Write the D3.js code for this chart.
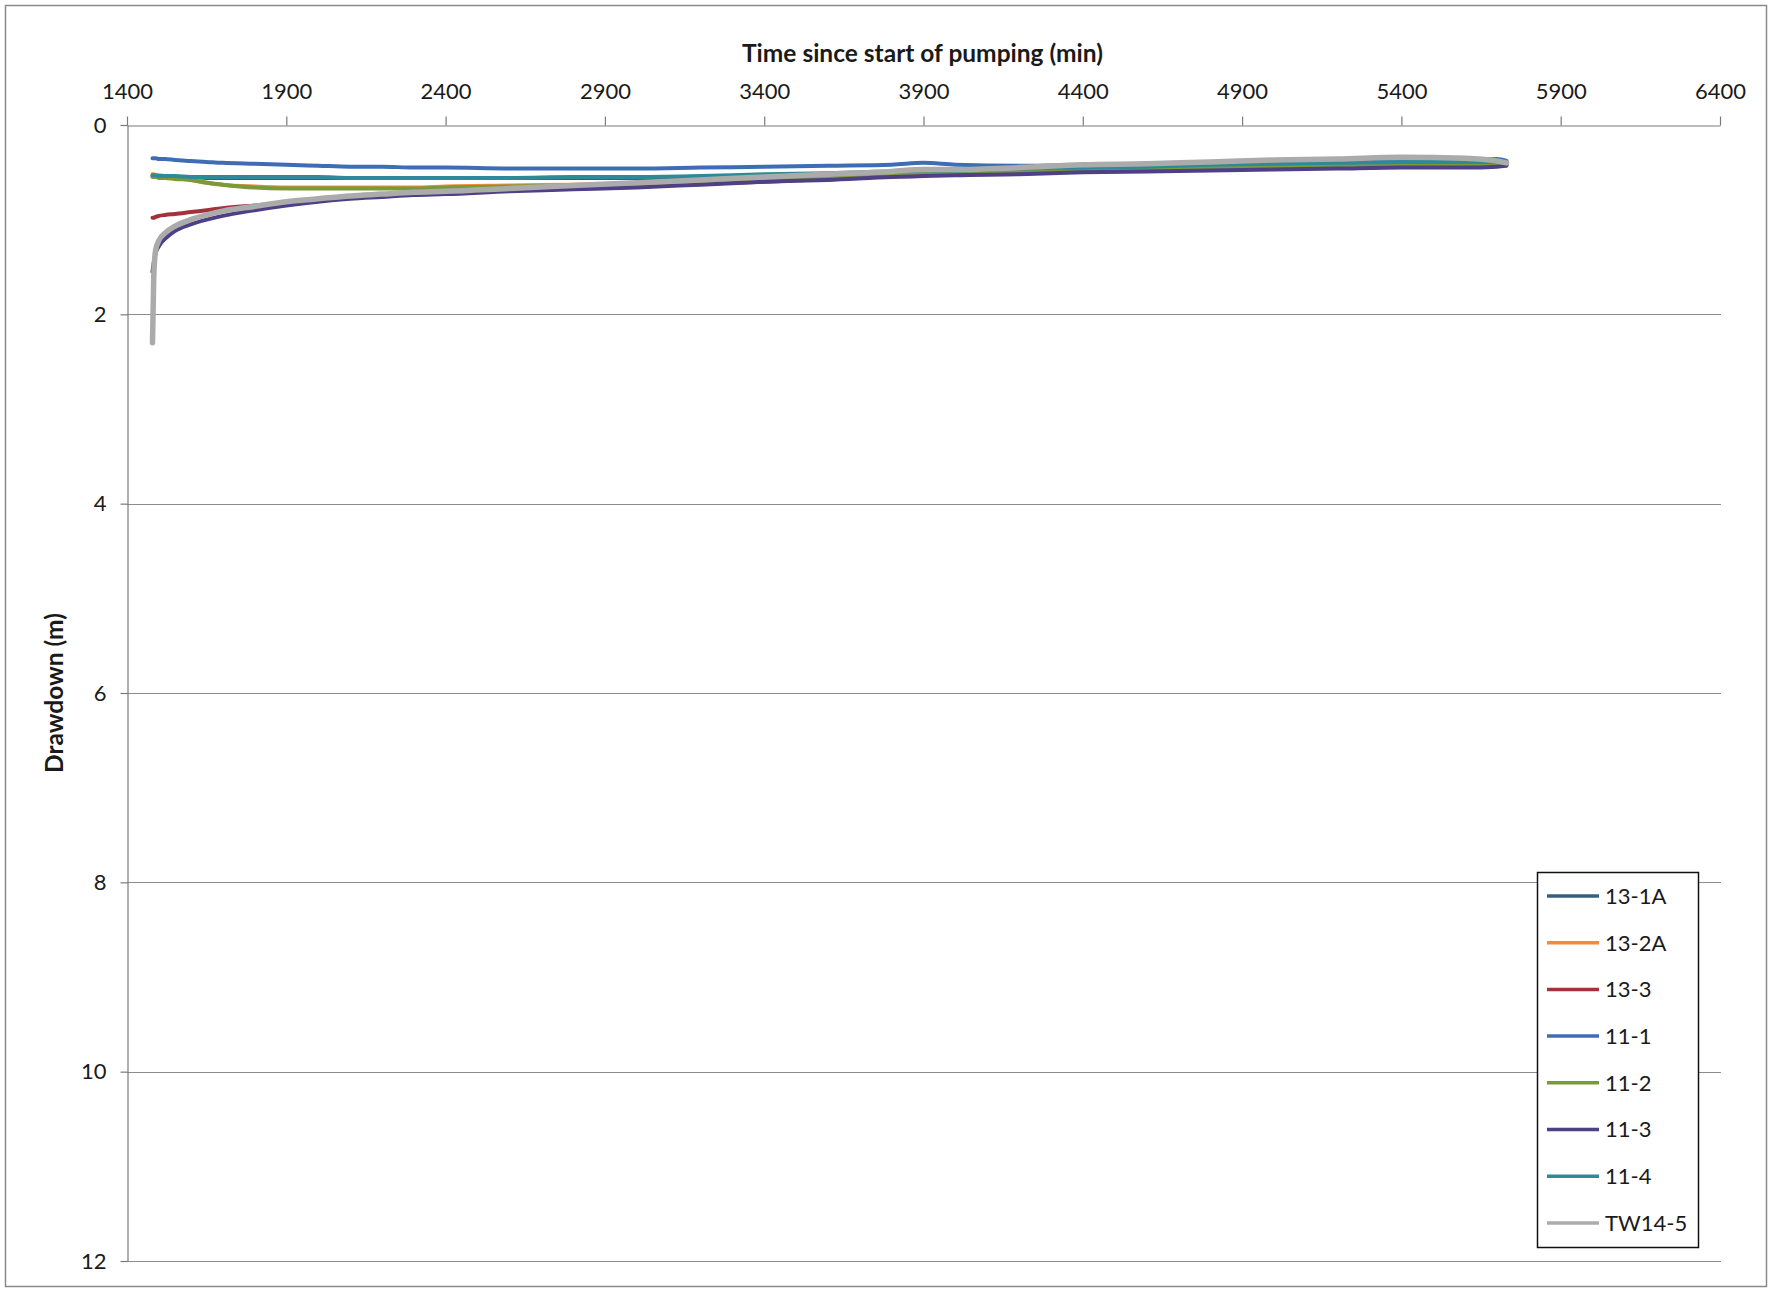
<!DOCTYPE html>
<html>
<head>
<meta charset="utf-8">
<script src="https://cdn.jsdelivr.net/npm/d3@7"></script>
<style>
  html, body { margin: 0; padding: 0; background: #fff; }
  svg { display: block; }
  text { font-family: Lato, "Open Sans", sans-serif; fill: #1a1a1a; }
</style>
</head>
<body>
<script>
// ---- Data ----
const times = [1480, 1484, 1490, 1500, 1520, 1550, 1600, 1650, 1700, 1800,
               1900, 2000, 2100, 2200, 2300, 2400, 2600, 2800, 3000, 3200,
               3400, 3600, 3800, 3900, 4000, 4200, 4400, 4600, 4800, 5000,
               5200, 5400, 5600, 5700, 5730];

const s13_1A = [0.54, 0.54, 0.54, 0.54, 0.55, 0.55, 0.55, 0.56, 0.56, 0.56,
                0.56, 0.56, 0.56, 0.56, 0.56, 0.56, 0.56, 0.56, 0.56, 0.55,
                0.53, 0.52, 0.50, 0.49, 0.48, 0.47, 0.46, 0.45, 0.43, 0.42,
                0.41, 0.40, 0.40, 0.39, 0.40];
const s13_2A = [0.52, 0.52, 0.53, 0.53, 0.54, 0.56, 0.58, 0.61, 0.63, 0.65,
                0.66, 0.66, 0.66, 0.66, 0.66, 0.65, 0.64, 0.63, 0.62, 0.60,
                0.57, 0.55, 0.52, 0.51, 0.50, 0.49, 0.47, 0.46, 0.45, 0.43,
                0.42, 0.41, 0.41, 0.40, 0.40];
const s13_3 = [0.98, 0.98, 0.97, 0.96, 0.95, 0.94, 0.92, 0.90, 0.88, 0.85,
               0.82, 0.79, 0.77, 0.75, 0.73, 0.71, 0.69, 0.67, 0.65, 0.62,
               0.60, 0.57, 0.54, 0.53, 0.52, 0.51, 0.49, 0.48, 0.46, 0.45,
               0.44, 0.43, 0.42, 0.42, 0.42];
const s11_1 = [0.35, 0.35, 0.35, 0.36, 0.36, 0.37, 0.38, 0.39, 0.40, 0.41,
               0.42, 0.43, 0.44, 0.44, 0.45, 0.45, 0.46, 0.46, 0.46, 0.45,
               0.44, 0.43, 0.42, 0.40, 0.42, 0.43, 0.42, 0.41, 0.40, 0.39,
               0.38, 0.38, 0.37, 0.36, 0.38];
const s11_2 = [0.55, 0.55, 0.55, 0.56, 0.56, 0.57, 0.58, 0.61, 0.63, 0.66,
               0.67, 0.67, 0.67, 0.67, 0.67, 0.66, 0.65, 0.64, 0.62, 0.60,
               0.57, 0.55, 0.53, 0.52, 0.51, 0.50, 0.48, 0.47, 0.45, 0.44,
               0.43, 0.42, 0.42, 0.41, 0.41];
const s11_3 = [1.55, 1.45, 1.35, 1.28, 1.20, 1.12, 1.05, 1.00, 0.96, 0.90,
               0.85, 0.81, 0.78, 0.76, 0.74, 0.73, 0.70, 0.68, 0.66, 0.63,
               0.60, 0.58, 0.55, 0.54, 0.53, 0.52, 0.50, 0.49, 0.48, 0.47,
               0.46, 0.45, 0.45, 0.44, 0.43];
const s11_4 = [0.53, 0.53, 0.53, 0.54, 0.54, 0.54, 0.55, 0.55, 0.55, 0.55,
               0.55, 0.55, 0.56, 0.56, 0.56, 0.56, 0.56, 0.55, 0.55, 0.54,
               0.52, 0.51, 0.49, 0.48, 0.48, 0.46, 0.45, 0.44, 0.42, 0.41,
               0.40, 0.39, 0.39, 0.39, 0.40];
const sTW14_5 = [2.30, 1.60, 1.32, 1.22, 1.14, 1.07, 1.00, 0.95, 0.91, 0.86,
                 0.81, 0.78, 0.75, 0.73, 0.71, 0.70, 0.67, 0.64, 0.61, 0.58,
                 0.55, 0.52, 0.49, 0.47, 0.47, 0.45, 0.42, 0.41, 0.39, 0.37,
                 0.36, 0.34, 0.35, 0.38, 0.40];

const seriesNames  = ["13-1A", "13-2A", "13-3", "11-1", "11-2", "11-3", "11-4", "TW14-5"];
const seriesValues = [s13_1A, s13_2A, s13_3, s11_1, s11_2, s11_3, s11_4, sTW14_5];
const seriesColors = ["#37607F", "#F28C3C", "#A3323C", "#3E6DB5", "#7A9A3A", "#4E3F86", "#2E8A96", "#ABABAB"];

const xTicks = [1400, 1900, 2400, 2900, 3400, 3900, 4400, 4900, 5400, 5900, 6400];
const yTicks = [0, 2, 4, 6, 8, 10, 12];

const xTitle = "Time since start of pumping (min)";
const yTitle = "Drawdown (m)";

// ---- Layout ----
const W = 1774, H = 1289;
const plot = { left: 127, right: 1720, top: 125, bottom: 1261 };

const svg = d3.select("body").append("svg").attr("width", W).attr("height", H);

// outer border
svg.append("rect").attr("x", 5.5).attr("y", 5.5).attr("width", 1761).attr("height", 1281)
  .attr("fill", "#fff").attr("stroke", "#8a8a8a").attr("stroke-width", 1.5);

const x = d3.scaleLinear().domain([1400, 6400]).range([plot.left, plot.right]);
const y = d3.scaleLinear().domain([0, 12]).range([plot.top, plot.bottom]);

// gridlines
svg.append("g").selectAll("line").data(yTicks.filter(d => d > 0)).join("line")
  .attr("x1", plot.left).attr("x2", plot.right + 1)
  .attr("y1", d => Math.round(y(d)) + 0.5).attr("y2", d => Math.round(y(d)) + 0.5)
  .attr("stroke", "#8c8c8c").attr("stroke-width", 1.2);

// top axis
const xAxis = svg.append("g").attr("transform", `translate(0,${plot.top + 0.5})`)
  .call(d3.axisTop(x).tickValues(xTicks).tickSize(9).tickSizeOuter(0).tickPadding(18).tickFormat(d3.format("d")));
xAxis.select(".domain").attr("stroke", "#7a7a7a").attr("stroke-width", 1.2);
xAxis.selectAll(".tick line").attr("stroke", "#7a7a7a").attr("stroke-width", 1.2);
xAxis.selectAll(".tick text").attr("font-size", 22).attr("fill", "#1a1a1a")
  .attr("font-family", "Lato, sans-serif");

// left axis
const yAxis = svg.append("g").attr("transform", `translate(${plot.left + 0.5},0)`)
  .call(d3.axisLeft(y).tickValues(yTicks).tickSize(7).tickSizeOuter(0).tickPadding(14).tickFormat(d3.format("d")));
yAxis.select(".domain").attr("stroke", "#7a7a7a").attr("stroke-width", 1.2);
yAxis.selectAll(".tick line").attr("stroke", "#7a7a7a").attr("stroke-width", 1.2);
yAxis.selectAll(".tick text").attr("font-size", 22).attr("fill", "#1a1a1a")
  .attr("font-family", "Lato, sans-serif");

// axis titles
svg.append("text").attr("x", (plot.left + plot.right) / 2 - 1).attr("y", 62)
  .attr("text-anchor", "middle").attr("font-size", 24.5).attr("font-weight", "bold")
  .text(xTitle);
svg.append("text").attr("transform", `translate(63,${(plot.top + plot.bottom) / 2}) rotate(-90)`)
  .attr("text-anchor", "middle").attr("font-size", 24.5).attr("font-weight", "bold")
  .text(yTitle);

// series lines
const line = d3.line().x((d, i) => x(times[i])).y(d => y(d)).curve(d3.curveMonotoneX);
svg.append("g").selectAll("path").data(seriesValues).join("path")
  .attr("d", d => line(d))
  .attr("fill", "none")
  .attr("stroke", (d, i) => seriesColors[i])
  .attr("stroke-width", (d, i) => seriesNames[i] === "TW14-5" ? 5.5 : 4)
  .attr("stroke-linejoin", "round").attr("stroke-linecap", "round");

// legend
const lg = svg.append("g");
lg.append("rect").attr("x", 1537.5).attr("y", 872.5).attr("width", 161).attr("height", 375)
  .attr("fill", "#fff").attr("stroke", "#111").attr("stroke-width", 1.5);
const items = lg.selectAll("g.item").data(seriesNames).join("g").attr("class", "item")
  .attr("transform", (d, i) => `translate(0,${896 + i * 46.7})`);
items.append("line").attr("x1", 1547).attr("x2", 1599).attr("y1", 0).attr("y2", 0)
  .attr("stroke", (d, i) => seriesColors[i]).attr("stroke-width", 3.5);
items.append("text").attr("x", 1605).attr("y", 0).attr("dy", "0.36em")
  .attr("font-size", 22).text(d => d);
</script>
</body>
</html>
